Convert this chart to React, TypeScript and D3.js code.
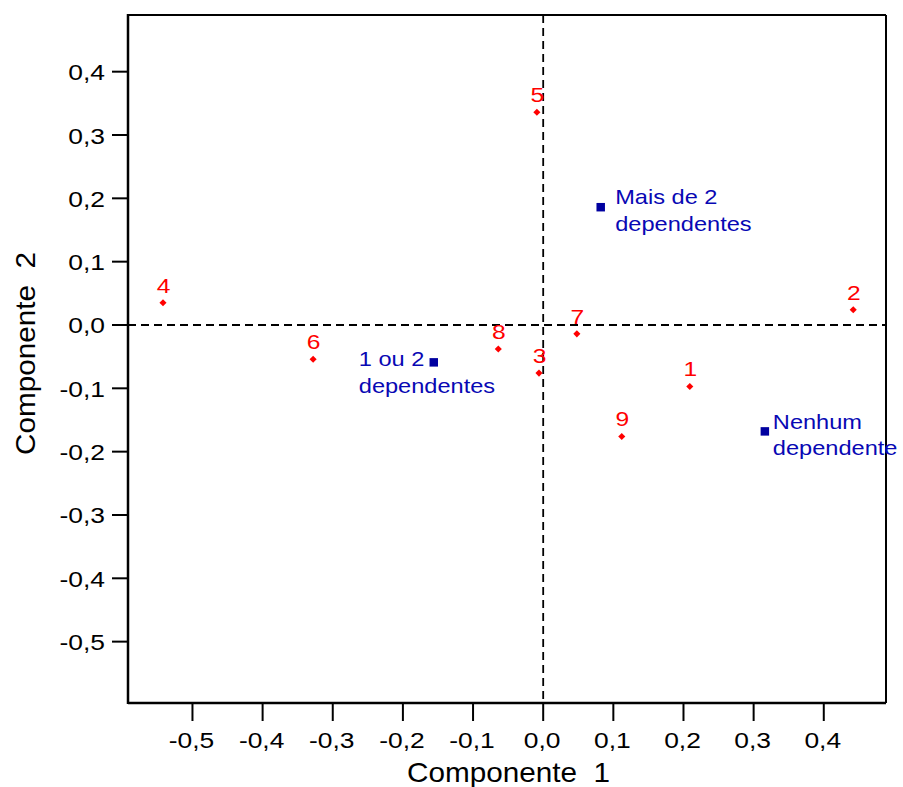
import React from "react";
import * as d3 from "d3";

// ---- data ----
const pointIds = ["1", "2", "3", "4", "5", "6", "7", "8", "9"];
const pointX = [0.209, 0.442, -0.006, -0.542, -0.009, -0.328, 0.048, -0.064, 0.112];
const pointY = [-0.097, 0.024, -0.076, 0.035, 0.336, -0.054, -0.014, -0.038, -0.176];

const catLines = [["Mais de 2", "dependentes"], ["1 ou 2", "dependentes"], ["Nenhum", "dependente"]];
const catX = [0.082, -0.156, 0.316];
const catY = [0.186, -0.059, -0.168];

const xTicks = [-0.5, -0.4, -0.3, -0.2, -0.1, 0.0, 0.1, 0.2, 0.3, 0.4];
const yTicks = [0.4, 0.3, 0.2, 0.1, 0.0, -0.1, -0.2, -0.3, -0.4, -0.5];
const xTitle = "Componente  1";
const yTitle = "Componente  2";

// ---- styling / layout ----
const W = 903, H = 787;
const L = 128, R = 886, T = 15, B = 703;
const FONT = "'Liberation Sans', Arial, Helvetica, sans-serif";
const RED = "#ff0000";
const BLUE = "#0808b4";
// label offsets (px) relative to category marker
const catLabelOffset = [
  { dx: 14.5, dy: -3 },
  { dx: -75, dy: 4 },
  { dx: 8, dy: -2.7 },
];

const fmt = (v: number) => d3.format(".1f")(v).replace(".", ",").replace("−", "-");

export default function App() {
  const x = d3.scaleLinear().domain([-0.5919, 0.4887]).range([L, R]);
  const y = d3.scaleLinear().domain([-0.5969, 0.4895]).range([B, T]);
  const diamond = d3.symbol().type(d3.symbolDiamond2).size(32)()!;
  const square = d3.symbol().type(d3.symbolSquare).size(72)()!;

  return (
    <div style={{ position: "absolute", left: 0, top: 0 }}>
      <svg width={W} height={H} style={{ display: "block", background: "#fff" }}>
        <rect x={0} y={0} width={W} height={H} fill="#fff" />
        {/* dashed reference lines */}
        <line x1={L} x2={R} y1={y(0)} y2={y(0)} stroke="#000" strokeWidth={1.8} strokeDasharray="8,5" />
        <line x1={x(0)} x2={x(0)} y1={T} y2={B} stroke="#000" strokeWidth={1.8} strokeDasharray="8,5" />

        {/* frame */}
        <line x1={L} x2={R} y1={T} y2={T} stroke="#000" strokeWidth={2} />
        <line x1={R} x2={R} y1={T} y2={B} stroke="#000" strokeWidth={2} />
        <line x1={L} x2={R} y1={B} y2={B} stroke="#000" strokeWidth={2.5} />
        <line x1={L} x2={L} y1={T - 1} y2={B + 1} stroke="#000" strokeWidth={2.5} />

        {/* x axis ticks */}
        {xTicks.map((t) => (
          <g key={"xt" + t}>
            <line x1={x(t)} x2={x(t)} y1={B} y2={B + 18} stroke="#000" strokeWidth={2} />
            <text
              transform={`translate(${x(t) - 1},748) scale(1.2,1)`}
              textAnchor="middle"
              fontFamily={FONT}
              fontSize={22}
              fill="#000"
            >
              {fmt(t)}
            </text>
          </g>
        ))}
        {/* y axis ticks */}
        {yTicks.map((t) => (
          <g key={"yt" + t}>
            <line x1={L - 16} x2={L} y1={y(t)} y2={y(t)} stroke="#000" strokeWidth={2} />
            <text
              transform={`translate(105,${y(t) + 8.5}) scale(1.2,1)`}
              textAnchor="end"
              fontFamily={FONT}
              fontSize={22}
              fill="#000"
            >
              {fmt(t)}
            </text>
          </g>
        ))}

        {/* axis titles */}
        <text
          transform={`translate(${(L + R) / 2 + 1.5},781.5) scale(1.1,1)`}
          textAnchor="middle"
          fontFamily={FONT}
          fontSize={27}
          fill="#000"
          style={{ whiteSpace: "pre" }}
        >
          {xTitle}
        </text>
        <text
          transform={`translate(35,353.5) rotate(-90) scale(1.1,1)`}
          textAnchor="middle"
          fontFamily={FONT}
          fontSize={27}
          fill="#000"
          style={{ whiteSpace: "pre" }}
        >
          {yTitle}
        </text>

        {/* numbered points */}
        {pointIds.map((id, i) => (
          <g key={"p" + id}>
            <path d={diamond} transform={`translate(${x(pointX[i])},${y(pointY[i])})`} fill={RED} />
            <text
              transform={`translate(${x(pointX[i]) + 0.5},${y(pointY[i]) - 10}) scale(1.2,1)`}
              textAnchor="middle"
              fontFamily={FONT}
              fontSize={20.5}
              fill={RED}
            >
              {id}
            </text>
          </g>
        ))}

        {/* category points */}
        {catLines.map((lines, i) => {
          const cx = x(catX[i]);
          const cy = y(catY[i]);
          const o = catLabelOffset[i];
          return (
            <g key={"c" + i}>
              <path d={square} transform={`translate(${cx},${cy})`} fill="#0000a0" />
              {lines.map((ln, j) => (
                <text
                  key={j}
                  transform={`translate(${cx + o.dx},${cy + o.dy + j * 26.5}) scale(1.18,1)`}
                  fontFamily={FONT}
                  fontSize={20}
                  fill={BLUE}
                >
                  {ln}
                </text>
              ))}
            </g>
          );
        })}
      </svg>
    </div>
  );
}
